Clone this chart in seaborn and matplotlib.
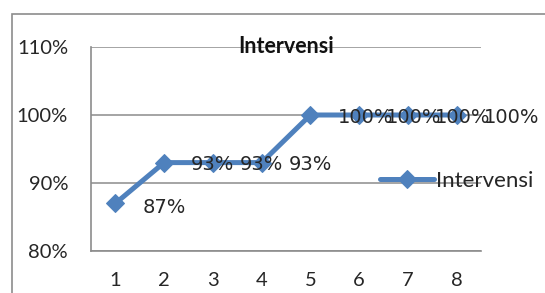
import matplotlib
matplotlib.use("Agg")
import matplotlib.pyplot as plt
import matplotlib.patches as mpatches
import matplotlib.ticker as mtick
import pandas as pd
import seaborn as sns

# ── Data ───────────────────────────────────────────────────────────────────
sessions = [1, 2, 3, 4, 5, 6, 7, 8]
intervensi = [0.87, 0.93, 0.93, 0.93, 1.00, 1.00, 1.00, 1.00]
y_ticks = [0.80, 0.90, 1.00, 1.10]
series_name = "Intervensi"

df = pd.DataFrame({"sesi": sessions, "nilai": intervensi, "seri": series_name})

sns.set_theme(style="white")
plt.rcParams["font.family"] = ["Lato", "DejaVu Sans"]

BLUE = "#4F81BD"
GREY = "#8C8C8C"
TEXT = "#262626"

fig = plt.figure(figsize=(5.45, 2.93), dpi=100)
ax = fig.add_axes([91 / 545, 1 - 251 / 293, 390 / 545, 204 / 293])

# outer chart border (cut by the image edges)
fig.patches.append(mpatches.Rectangle((12 / 545, -0.2), 1.2, 1 - 14 / 293 + 0.2,
                                      transform=fig.transFigure, fill=False,
                                      edgecolor=GREY, linewidth=1.2))

sns.lineplot(data=df, x="sesi", y="nilai", hue="seri", palette=[BLUE],
             marker="D", markersize=9, markeredgecolor=BLUE,
             linewidth=3.6, ax=ax)

# data labels, right of each point
for x, y in zip(sessions, intervensi):
    dy = -3 if x == 1 else -1.5
    ax.annotate(f"{y:.0%}", (x, y), xytext=(19.5, dy),
                textcoords="offset points", ha="left", va="center",
                fontsize=14, family="DejaVu Sans", color=TEXT)

ax.set_xlim(0.5, 8.5)
ax.set_ylim(0.80, 1.10)
ax.set_xticks(sessions)
ax.set_yticks(y_ticks)
ax.yaxis.set_major_formatter(mtick.PercentFormatter(xmax=1.0, decimals=0))
ax.tick_params(axis="both", length=0, labelsize=14.5, colors=TEXT)
ax.tick_params(axis="y", pad=16.5)
ax.tick_params(axis="x", pad=15)
ax.set_xlabel("")
ax.set_ylabel("")

ax.grid(axis="y", color=GREY, linewidth=1.1)
ax.set_axisbelow(True)
for side in ["top", "right"]:
    ax.spines[side].set_visible(False)
for side in ["left", "bottom"]:
    ax.spines[side].set_color(GREY)
    ax.spines[side].set_linewidth(1.2)

ax.set_title(series_name, y=0.972, pad=0, fontsize=15.5, fontweight="bold",
             color="#111111")

handles, labels = ax.get_legend_handles_labels()
ax.legend(handles, labels, loc="center left",
          bbox_to_anchor=((380 - 91) / 390, (251 - 181) / 204),
          frameon=False, borderpad=0, borderaxespad=0, handlelength=2.45,
          handletextpad=0.08, fontsize=16, labelcolor=TEXT)

fig.savefig("out.png", dpi=100)
